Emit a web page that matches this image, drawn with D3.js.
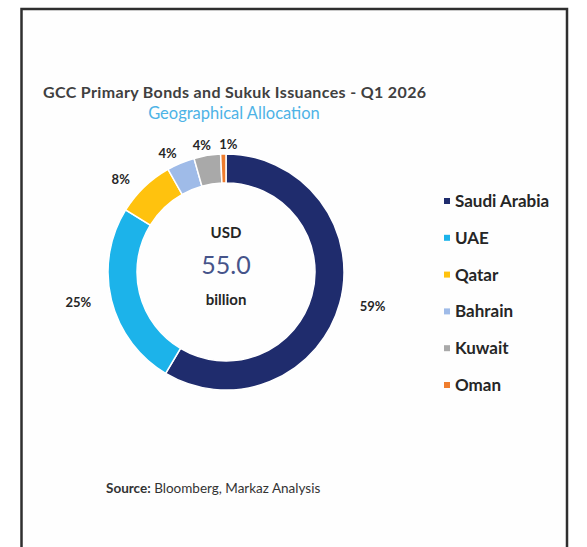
<!DOCTYPE html>
<html lang="en">
<head>
<meta charset="utf-8">
<title>GCC Primary Bonds and Sukuk Issuances</title>
<script src="https://d3js.org/d3.v7.min.js"></script>
<style>
  body { margin: 0; background: #fff; }
  svg text { font-family: Lato, "Open Sans", sans-serif; }
</style>
</head>
<body>
<script>
// data (USD bn, Q1 2026)
var countries = ["Saudi Arabia", "UAE", "Qatar", "Bahrain", "Kuwait", "Oman"];
var issuance = [32.2, 13.9, 4.4, 2.1, 2.0, 0.4];
var colors = ["#1f2c6d", "#1cb3ea", "#ffc20e", "#9fbbe8", "#a9a9a9", "#ef7d2e"];
var totalLabel = "55.0";

var W = 587, H = 547;
var svg = d3.select("body").append("svg").attr("width", W).attr("height", H);

// frame (bottom edge runs off the picture)
svg.append("rect")
    .attr("x", 21.5).attr("y", 9)
    .attr("width", 545.5).attr("height", 560)
    .attr("fill", "#fefefe")
    .attr("stroke", "#2f2f2f")
    .attr("stroke-width", 2.5);

svg.append("text")
    .attr("x", 43).attr("y", 98)
    .attr("font-size", 16).attr("font-weight", 700)
    .attr("letter-spacing", 0.35)
    .attr("fill", "#404040")
    .text("GCC Primary Bonds and Sukuk Issuances - Q1 2026");

svg.append("text")
    .attr("x", 234).attr("y", 119)
    .attr("text-anchor", "middle")
    .attr("font-size", 16.5)
    .attr("fill", "#4db3e6")
    .text("Geographical Allocation");

var cx = 226, cy = 272, rOut = 118, rIn = 89;
var g = svg.append("g").attr("transform", "translate(" + cx + "," + cy + ")");

var pie = d3.pie().sort(null).value(function(d) { return d; });
var arcs = pie(issuance);
var total = d3.sum(issuance);
var arc = d3.arc().innerRadius(rIn).outerRadius(rOut);

g.selectAll(".slice")
    .data(arcs)
    .enter().append("path")
    .attr("class", "slice")
    .attr("d", arc)
    .attr("fill", function(d, i) { return colors[i]; })
    .attr("stroke", "#fff")
    .attr("stroke-width", 1.5);

// outside labels, on a slightly wide ellipse round the ring
var rxLab = 152, ryLab = 128;
var pct = d3.format(".0%");
var labels = g.selectAll(".lbl")
    .data(arcs)
    .enter().append("text")
    .attr("class", "lbl")
    .attr("x", function(d) { return Math.sin((d.startAngle + d.endAngle) / 2) * rxLab; })
    .attr("y", function(d) { return -Math.cos((d.startAngle + d.endAngle) / 2) * ryLab; })
    .attr("text-anchor", "middle")
    .attr("dy", "0.35em")
    .attr("font-size", 13).attr("font-weight", 700)
    .attr("fill", "#262626")
    .text(function(d) { return pct(d.value / total); });

// push apart crowded labels along the top
var prev = null;
labels.each(function() {
    var b = this.getBBox();
    if (prev && b.y < prev.y + prev.height && b.x < prev.x + prev.width + 8 && b.x > prev.x) {
        var shift = prev.x + prev.width + 8 - b.x;
        d3.select(this).attr("x", +d3.select(this).attr("x") + shift);
        b = this.getBBox();
    }
    prev = b;
});

// centre text
g.append("text").attr("y", -34).attr("text-anchor", "middle")
    .attr("font-size", 15).attr("font-weight", 700).attr("fill", "#262626")
    .text("USD");
g.append("text").attr("y", 2).attr("text-anchor", "middle")
    .attr("font-size", 25).attr("fill", "#46548a")
    .text(totalLabel);
g.append("text").attr("y", 33).attr("text-anchor", "middle")
    .attr("font-size", 15).attr("font-weight", 700).attr("fill", "#262626")
    .text("billion");

// legend
var legY = d3.scalePoint().domain(countries).range([201, 385]);
var leg = svg.selectAll(".leg")
    .data(countries)
    .enter().append("g")
    .attr("class", "leg")
    .attr("transform", function(d) { return "translate(447," + legY(d) + ")"; });
leg.append("rect")
    .attr("x", -3).attr("y", -3).attr("width", 6).attr("height", 6)
    .attr("fill", function(d, i) { return colors[i]; });
leg.append("text")
    .attr("x", 8).attr("dy", "0.35em")
    .attr("font-size", 17).attr("font-weight", 700).attr("fill", "#262626")
    .text(function(d) { return d; });

// source
var src = svg.append("text").attr("x", 106).attr("y", 493)
    .attr("font-size", 13.5).attr("fill", "#333");
src.append("tspan").attr("font-weight", 700).text("Source:");
src.append("tspan").text(" Bloomberg, Markaz Analysis");
</script>
</body>
</html>
